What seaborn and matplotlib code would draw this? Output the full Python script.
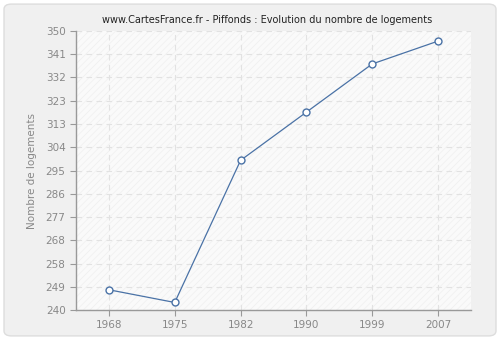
import matplotlib
matplotlib.use("Agg")
import matplotlib.pyplot as plt
from matplotlib.patches import Rectangle, FancyBboxPatch
import numpy as np
import pandas as pd
import seaborn as sns

years = ["1968", "1975", "1982", "1990", "1999", "2007"]
logements = [248, 243, 299, 318, 337, 346]
ytick_labels = ["240", "249", "258", "268", "277", "286", "295", "304",
                "313", "323", "332", "341", "350"]

title = "www.CartesFrance.fr - Piffonds : Evolution du nombre de logements"
ylabel = "Nombre de logements"

sns.set_style("white")
plt.rcParams["font.family"] = ["DejaVu Sans"]
plt.rcParams["hatch.linewidth"] = 0.5

line_col = "#4a72a6"
text_col = "#888888"

fig = plt.figure(figsize=(5.0, 3.4), dpi=100)
fig.patch.set_facecolor("white")
frame = FancyBboxPatch((0.008, 0.012), 0.984, 0.976,
                       boxstyle="round,pad=0,rounding_size=0.015",
                       transform=fig.transFigure, facecolor="#f0f0f0",
                       edgecolor="#dddddd", linewidth=1.0, zorder=-10)
fig.patches.append(frame)

ax = fig.add_axes([0.152, 0.088, 0.790, 0.821])
ax.set_facecolor("#fafafa")
ax.add_patch(Rectangle((0, 0), 1, 1, transform=ax.transAxes, fill=False,
                       hatch="/////", edgecolor="#efefef", linewidth=0,
                       zorder=0))

df = pd.DataFrame({"year": years, "value": logements})
sns.pointplot(data=df, x="year", y="value", ax=ax, color=line_col,
              markers="o", markersize=5, linewidth=0.9,
              markerfacecolor="white", markeredgecolor=line_col,
              markeredgewidth=1.0, zorder=3)

ax.set_xlim(-0.5, len(years) - 0.5)
ax.set_ylim(240, 350)
ax.set_yticks(np.linspace(240, 350, len(ytick_labels)))
ax.set_yticklabels(ytick_labels)

ax.grid(True, color="#e2e2e2", linestyle=(0, (5, 4)), linewidth=0.8)
ax.set_axisbelow(True)
for side in ("top", "right"):
    ax.spines[side].set_visible(False)
for side in ("left", "bottom"):
    ax.spines[side].set_color("#999999")
    ax.spines[side].set_linewidth(1.0)
ax.tick_params(axis="both", colors="#999999", labelcolor=text_col,
               labelsize=7.5, length=4, width=0.8, direction="out",
               left=True, bottom=True)

ax.set_xlabel("")
ax.set_ylabel(ylabel, color=text_col, fontsize=7.5, labelpad=6)
ax.set_title(title, fontsize=7.0, color="#222222", pad=6, x=0.483)

fig.savefig("out.png", dpi=100, facecolor=fig.get_facecolor())
